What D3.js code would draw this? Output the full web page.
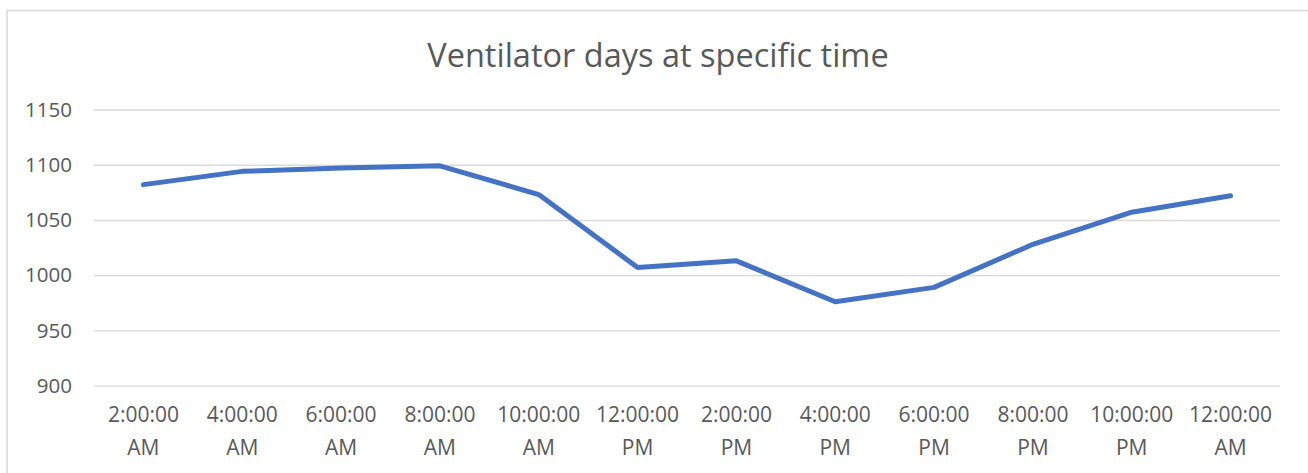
<!DOCTYPE html>
<html>
<head>
<meta charset="utf-8">
<script src="https://cdn.jsdelivr.net/npm/d3@7"></script>
<style>
  html, body { margin: 0; padding: 0; background: #fff; }
  svg { display: block; }
  text { font-family: "Open Sans", "Noto Sans", sans-serif; fill: #595959; }
</style>
</head>
<body>
<svg id="chart" width="1308" height="473"></svg>
<script>
const title = "Ventilator days at specific time";
const categories = ["2:00:00 AM", "4:00:00 AM", "6:00:00 AM", "8:00:00 AM", "10:00:00 AM", "12:00:00 PM",
                    "2:00:00 PM", "4:00:00 PM", "6:00:00 PM", "8:00:00 PM", "10:00:00 PM", "12:00:00 AM"];
const values = [1082, 1094, 1097, 1099, 1073, 1007, 1013, 976, 989, 1028, 1057, 1072];
const yTicks = [900, 950, 1000, 1050, 1100, 1150];

const svg = d3.select("#chart");
const W = 1308, H = 473;
const plot = { left: 94, right: 1280, top: 109.5, bottom: 385.7 };

// chart border
svg.append("rect")
  .attr("x", 7).attr("y", 10.5)
  .attr("width", W + 20).attr("height", H + 20)
  .attr("fill", "none").attr("stroke", "#d9d9d9").attr("stroke-width", 1.5);

const x = d3.scaleBand().domain(categories).range([plot.left, plot.right]);
const y = d3.scaleLinear().domain([900, 1150]).range([plot.bottom, plot.top]);

// gridlines
const yAxis = d3.axisLeft(y).tickValues(yTicks).tickFormat(d3.format("d"))
  .tickSize(-(plot.right - plot.left)).tickPadding(22);
const gy = svg.append("g").attr("transform", `translate(${plot.left},0)`).call(yAxis);
gy.select(".domain").remove();
gy.selectAll(".tick line").attr("stroke", "#d9d9d9").attr("stroke-width", 1.3);
gy.selectAll(".tick text").attr("font-size", "20.5px").attr("fill", "#595959")
  .attr("font-family", '"Open Sans", sans-serif');

// x axis labels (two lines)
const xAxis = d3.axisBottom(x).tickSize(0).tickPadding(0);
const gx = svg.append("g").attr("transform", `translate(0,${plot.bottom})`).call(xAxis);
gx.select(".domain").remove();
gx.selectAll(".tick text").each(function(d) {
  const t = d3.select(this);
  const parts = d.split(" ");
  t.text(null).attr("y", 0).attr("dy", null)
    .attr("font-size", "21px").attr("fill", "#595959")
    .attr("font-family", '"Open Sans", sans-serif');
  t.append("tspan").attr("x", 0).attr("y", 36).text(parts[0]);
  t.append("tspan").attr("x", 0).attr("y", 69).text(parts[1]);
});

// line
const line = d3.line()
  .x((d, i) => x(categories[i]) + x.bandwidth() / 2)
  .y(d => y(d));
svg.append("path")
  .datum(values)
  .attr("d", line)
  .attr("fill", "none")
  .attr("stroke", "#4472C4")
  .attr("stroke-width", 5)
  .attr("stroke-linejoin", "round")
  .attr("stroke-linecap", "round");

// title
svg.append("text")
  .attr("x", 658).attr("y", 67)
  .attr("text-anchor", "middle")
  .attr("font-size", "32.5px")
  .attr("fill", "#595959")
  .text(title);
</script>
</body>
</html>
